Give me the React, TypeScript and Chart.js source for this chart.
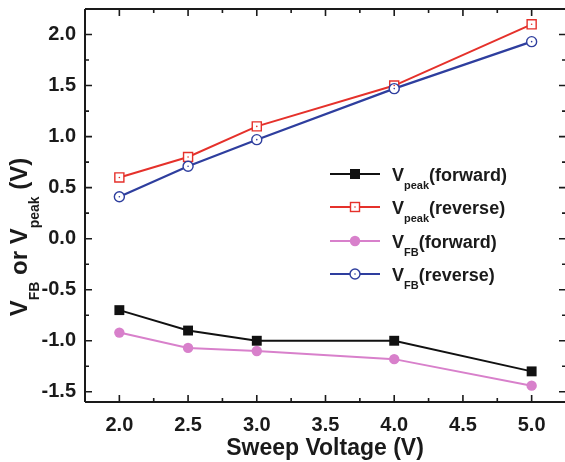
import React, { useEffect, useRef } from "react";
import { Chart, registerables } from "chart.js";

Chart.register(...registerables);

const sweepVoltage = [2.0, 2.5, 3.0, 4.0, 5.0];
const vPeakForward = [-0.7, -0.9, -1.0, -1.0, -1.3];
const vPeakReverse = [0.6, 0.8, 1.1, 1.5, 2.1];
const vFbForward = [-0.92, -1.07, -1.1, -1.18, -1.44];
const vFbReverse = [0.41, 0.71, 0.97, 1.47, 1.93];

const xTicks = [2.0, 2.5, 3.0, 3.5, 4.0, 4.5, 5.0];
const yTicks = [-1.5, -1.0, -0.5, 0.0, 0.5, 1.0, 1.5, 2.0];
const xMinorTicks = [1.75, 2.25, 2.75, 3.25, 3.75, 4.25, 4.75, 5.25];
const yMinorTicks = [-1.25, -0.75, -0.25, 0.25, 0.75, 1.25, 1.75];

const BLACK = "#111111";
const RED = "#e5312b";
const PINK = "#d880cb";
const BLUE = "#2e3e9e";
const FONT = "'Liberation Sans', Arial, Helvetica, sans-serif";

const pts = (ys: number[]) => sweepVoltage.map((x, i) => ({ x, y: ys[i] }));

function drawRich(
  ctx: CanvasRenderingContext2D,
  parts: { t: string; sub?: boolean }[],
  x: number,
  y: number,
  main: number,
  sub: number,
  subDrop: number,
  align: "left" | "center"
) {
  const widths = parts.map((p) => {
    ctx.font = `bold ${p.sub ? sub : main}px ${FONT}`;
    return ctx.measureText(p.t).width;
  });
  const total = widths.reduce((a, b) => a + b, 0);
  let cx = align === "center" ? x - total / 2 : x;
  ctx.textAlign = "left";
  ctx.textBaseline = "alphabetic";
  parts.forEach((p, i) => {
    ctx.font = `bold ${p.sub ? sub : main}px ${FONT}`;
    ctx.fillText(p.t, cx, p.sub ? y + subDrop : y);
    cx += widths[i];
  });
}

const framePlugin = {
  id: "frame",
  beforeDatasetsDraw(chart: any) {
    const { ctx, chartArea, scales } = chart;
    const { left, right, top, bottom } = chartArea;
    ctx.save();
    ctx.strokeStyle = "#1a1a1a";
    ctx.lineWidth = 2;
    ctx.beginPath();
    ctx.moveTo(left, top);
    ctx.lineTo(right, top);
    ctx.moveTo(left, bottom);
    ctx.lineTo(right, bottom);
    ctx.moveTo(left, top);
    ctx.lineTo(left, bottom);
    ctx.moveTo(right, top);
    ctx.lineTo(right, bottom);
    ctx.stroke();
    ctx.lineWidth = 1.6;
    ctx.beginPath();
    const xt = (v: number, len: number) => {
      const px = scales.x.getPixelForValue(v);
      ctx.moveTo(px, bottom);
      ctx.lineTo(px, bottom - len);
      ctx.moveTo(px, top);
      ctx.lineTo(px, top + len);
    };
    const yt = (v: number, len: number) => {
      const py = scales.y.getPixelForValue(v);
      ctx.moveTo(left, py);
      ctx.lineTo(left + len, py);
      ctx.moveTo(right, py);
      ctx.lineTo(right - len, py);
    };
    xTicks.forEach((v) => xt(v, 7));
    xMinorTicks.forEach((v) => xt(v, 4));
    yTicks.forEach((v) => yt(v, 7));
    yMinorTicks.forEach((v) => yt(v, 4));
    ctx.stroke();
    ctx.restore();
  },
  afterDatasetsDraw(chart: any) {
    const { ctx } = chart;
    ctx.save();
    [1, 3].forEach((di) => {
      const meta = chart.getDatasetMeta(di);
      ctx.fillStyle = di === 1 ? RED : BLUE;
      meta.data.forEach((el: any) => {
        ctx.beginPath();
        ctx.arc(el.x, el.y, 0.8, 0, Math.PI * 2);
        ctx.fill();
      });
    });

    const rows = [
      { color: BLACK, kind: "sqF", main: "V", sub: "peak", rest: "(forward)", lw: 2 },
      { color: RED, kind: "sqO", main: "V", sub: "peak", rest: "(reverse)", lw: 2 },
      { color: PINK, kind: "ciF", main: "V", sub: "FB", rest: "(forward)", lw: 2 },
      { color: BLUE, kind: "ciO", main: "V", sub: "FB", rest: "(reverse)", lw: 2.2 },
    ];
    const rowY = [174, 207, 241, 274];
    rows.forEach((r, i) => {
      const y = rowY[i];
      ctx.strokeStyle = r.color;
      ctx.lineWidth = r.lw;
      ctx.beginPath();
      ctx.moveTo(330, y);
      ctx.lineTo(380, y);
      ctx.stroke();
      const mx = 355;
      if (r.kind === "sqF") {
        ctx.fillStyle = r.color;
        ctx.fillRect(mx - 5, y - 5, 10, 10);
      } else if (r.kind === "sqO") {
        ctx.fillStyle = "#ffffff";
        ctx.fillRect(mx - 4.5, y - 4.5, 9, 9);
        ctx.lineWidth = 1.4;
        ctx.strokeRect(mx - 4.5, y - 4.5, 9, 9);
        ctx.fillStyle = r.color;
        ctx.beginPath();
        ctx.arc(mx, y, 0.8, 0, Math.PI * 2);
        ctx.fill();
      } else if (r.kind === "ciF") {
        ctx.fillStyle = r.color;
        ctx.beginPath();
        ctx.arc(mx, y, 5.2, 0, Math.PI * 2);
        ctx.fill();
      } else {
        ctx.fillStyle = "#ffffff";
        ctx.beginPath();
        ctx.arc(mx, y, 5, 0, Math.PI * 2);
        ctx.fill();
        ctx.lineWidth = 1.4;
        ctx.stroke();
        ctx.fillStyle = r.color;
        ctx.beginPath();
        ctx.arc(mx, y, 0.8, 0, Math.PI * 2);
        ctx.fill();
      }
      ctx.fillStyle = "#1a1a1a";
      drawRich(
        ctx,
        [{ t: r.main }, { t: r.sub, sub: true }, { t: r.rest }],
        392,
        y + 7,
        18,
        11,
        8,
        "left"
      );
    });

    ctx.fillStyle = "#1a1a1a";
    drawRich(ctx, [{ t: "Sweep Voltage (V)" }], 325, 455, 23, 14, 0, "center");

    ctx.translate(27, 237);
    ctx.rotate(-Math.PI / 2);
    drawRich(
      ctx,
      [
        { t: "V" },
        { t: "FB", sub: true },
        { t: " or V" },
        { t: "peak", sub: true },
        { t: " (V)" },
      ],
      0,
      0,
      24,
      14,
      12,
      "center"
    );
    ctx.restore();
  },
};

export default function App() {
  const ref = useRef<HTMLCanvasElement | null>(null);
  useEffect(() => {
    if (!ref.current) return;
    const chart = new Chart(ref.current, {
      type: "line",
      data: {
        datasets: [
          {
            label: "Vpeak(forward)",
            data: pts(vPeakForward),
            borderColor: BLACK,
            backgroundColor: BLACK,
            borderWidth: 2,
            pointStyle: "rect",
            pointRadius: 7,
            pointBorderWidth: 0,
            order: 2,
          },
          {
            label: "Vpeak(reverse)",
            data: pts(vPeakReverse),
            borderColor: RED,
            backgroundColor: "#ffffff",
            borderWidth: 2,
            pointStyle: "rect",
            pointRadius: 6.4,
            pointBorderWidth: 1.4,
            order: 3,
          },
          {
            label: "VFB(forward)",
            data: pts(vFbForward),
            borderColor: PINK,
            backgroundColor: PINK,
            borderWidth: 2,
            pointStyle: "circle",
            pointRadius: 5.2,
            pointBorderWidth: 0,
            order: 4,
          },
          {
            label: "VFB(reverse)",
            data: pts(vFbReverse),
            borderColor: BLUE,
            backgroundColor: "#ffffff",
            borderWidth: 2.2,
            pointStyle: "circle",
            pointRadius: 5,
            pointBorderWidth: 1.4,
            order: 1,
          },
        ],
      },
      options: {
        responsive: false,
        animation: false,
        devicePixelRatio: 1,
        layout: { padding: { top: 9, right: 34, left: 0, bottom: 0 } },
        plugins: { legend: { display: false }, tooltip: { enabled: false } },
        scales: {
          x: {
            type: "linear",
            min: 1.75,
            max: 5.25,
            grid: { display: false, drawTicks: false },
            border: { display: false },
            afterBuildTicks: (s: any) => {
              s.ticks = xTicks.map((v) => ({ value: v }));
            },
            afterFit: (s: any) => {
              s.height = 60;
              s.paddingLeft = 0;
              s.paddingRight = 0;
            },
            ticks: {
              padding: 11,
              color: "#1a1a1a",
              font: { family: FONT, size: 20, weight: "bold" },
              callback: (v: any) => Number(v).toFixed(1),
              maxRotation: 0,
              autoSkip: false,
            },
          },
          y: {
            type: "linear",
            min: -1.6,
            max: 2.25,
            grid: { display: false, drawTicks: false },
            border: { display: false },
            afterBuildTicks: (s: any) => {
              s.ticks = yTicks.map((v) => ({ value: v }));
            },
            afterFit: (s: any) => {
              s.width = 85;
              s.paddingTop = 0;
              s.paddingBottom = 0;
            },
            ticks: {
              padding: 9,
              color: "#1a1a1a",
              font: { family: FONT, size: 20, weight: "bold" },
              callback: (v: any) => Number(v).toFixed(1),
              autoSkip: false,
            },
          },
        },
      },
      plugins: [framePlugin],
    });
    return () => chart.destroy();
  }, []);
  return (
    <div
      style={{
        position: "fixed",
        left: 0,
        top: 0,
        width: 565,
        height: 462,
        overflow: "hidden",
        background: "#ffffff",
      }}
    >
      <canvas ref={ref} width={600} height={462} style={{ display: "block" }} />
    </div>
  );
}
